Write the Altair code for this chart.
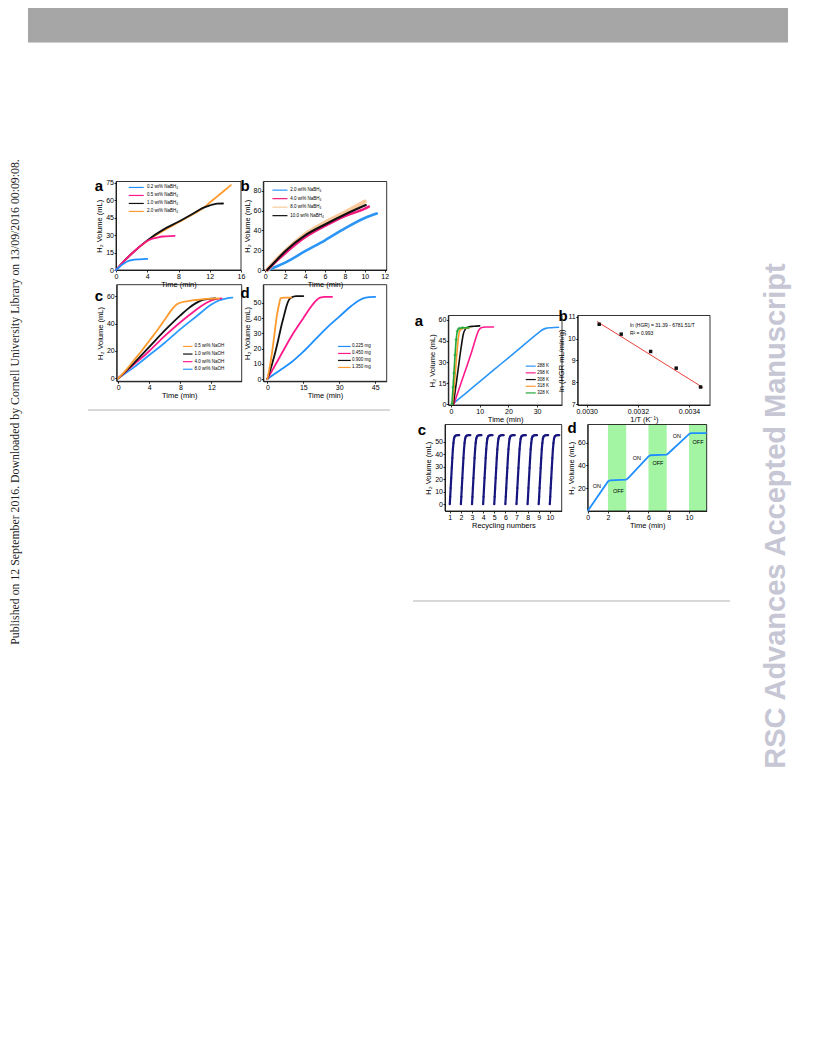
import altair as alt
import pandas as pd

W, H = 800, 1000
M = 8  # page margin: page pixel minus M = chart pixel
FONT = "Liberation Sans"

# ---------------- data ----------------
# Left figure (a): NaBH4 concentration
la_labels = ["0.2 wt% NaBH₄", "0.5 wt% NaBH₄", "1.0 wt% NaBH₄", "2.0 wt% NaBH₄"]
la_colors = ["#1f8fff", "#ff1a8c", "#111111", "#ff9a2e"]
la_t = [
    [0, 0.5, 1, 1.5, 2, 3, 4],
    [0, 1, 2, 3, 4, 4.5, 5, 5.5, 6, 7, 7.5],
    [0, 1, 2, 4, 6, 8, 10, 11, 12, 12.5, 13, 13.7],
    [0, 1, 2, 4, 6, 8, 10, 11.3, 12, 13, 14, 14.7],
]
la_v = [
    [0, 3, 5.5, 7.5, 8.5, 9.2, 9.5],
    [0, 7.5, 14, 20, 25, 26.5, 27.5, 28.3, 28.8, 29.2, 29.3],
    [0, 7.5, 14, 25.5, 34.5, 41.5, 49, 53, 55.5, 56.5, 57, 57.2],
    [0, 7.5, 14, 25, 33.5, 41, 48.5, 54, 58, 63.5, 69, 73],
]

# Left figure (b): NaBH4 concentration (higher)
lb_labels = ["2.0 wt% NaBH₄", "4.0 wt% NaBH₄", "8.0 wt% NaBH₄", "10.0 wt% NaBH₄"]
lb_colors = ["#2b95f5", "#f0197d", "#f8c99b", "#111111"]
lb_t = [
    [0.3, 1, 2, 4, 6, 8, 10, 11.2],
    [0.2, 1, 2, 4, 6, 8, 10, 10.4],
    [0.2, 1, 2, 4, 6, 8, 10],
    [0.2, 1, 2, 4, 6, 8, 10.1],
]
lb_v = [
    [0, 3, 7.5, 19, 30, 42, 52.5, 57],
    [0, 8, 17, 33, 44.5, 54.5, 62, 64],
    [0, 9, 19, 36, 48, 58, 69],
    [0, 8.5, 19, 35, 46, 56, 65.5],
]

# Left figure (c): NaOH concentration
lc_labels = ["0.5 wt% NaOH", "1.0 wt% NaOH", "4.0 wt% NaOH", "8.0 wt% NaOH"]
lc_colors = ["#ff9a2e", "#111111", "#ff1a8c", "#2b9bff"]
lc_t = [
    [0, 1, 2, 3, 4, 5, 6, 7, 7.5, 8, 9, 10, 11, 13],
    [0, 2, 4, 6, 8, 9, 10, 11, 12.5],
    [0, 2, 4, 6, 8, 10, 11, 12, 13.3],
    [0, 2, 4, 6, 8, 10, 12, 13, 14, 14.7],
]
lc_v = [
    [0, 6, 13, 20, 27.5, 35, 43, 51, 54, 55.3, 56.5, 57.3, 58, 58.5],
    [0, 11, 23, 35, 46, 51, 55, 57.5, 58.5],
    [0, 10, 20, 31, 41, 50, 54, 57, 58.5],
    [0, 8, 17, 26, 36, 45, 54, 57, 58.5, 59],
]

# Left figure (d): catalyst amount
ld_labels = ["0.225 mg", "0.450 mg", "0.900 mg", "1.350 mg"]
ld_colors = ["#1f8fff", "#ff1a8c", "#111111", "#ff9a2e"]
ld_t = [
    [0, 5, 10, 15, 20, 25, 30, 35, 38, 41, 45],
    [0, 5, 10, 15, 18, 20, 22, 24, 27],
    [0, 2, 4, 5, 6, 7, 8, 9, 10, 12, 15],
    [0, 1, 2, 3, 4, 5, 5.5, 7, 10],
]
ld_v = [
    [0, 5.5, 11, 18, 26, 34, 41, 48, 51.5, 53.5, 54],
    [0, 14, 28, 40, 47, 51, 53.5, 54, 54],
    [0, 10, 22, 29, 36, 42, 48, 52, 53.5, 54.5, 54.5],
    [0, 8, 18, 30, 42, 50, 53, 53.5, 53.5],
]

# Right figure (a): temperature
ra_labels = ["288 K", "298 K", "308 K", "318 K", "328 K"]
ra_colors = ["#2b95f5", "#ff1a8c", "#111111", "#ff9a2e", "#22a83a"]
ra_t = [
    [0.5, 5, 10, 15, 20, 25, 30, 31.5, 33, 35, 37.5],
    [1, 3, 5, 7, 8.5, 9.5, 10.5, 12, 14.8],
    [0.8, 1.5, 2.5, 3.5, 4.3, 5, 6, 8, 10],
    [0.5, 1, 1.5, 2, 2.5, 3, 4, 6.5],
    [0.3, 0.7, 1, 1.4, 1.8, 2.2, 2.8, 4, 6],
]
ra_v = [
    [0, 7.5, 16, 24.5, 33, 41.5, 50, 52.5, 54, 54.5, 54.8],
    [0, 12, 24, 36, 46, 52, 54.5, 55, 55],
    [0, 10, 25, 40, 50, 53.5, 55, 55.5, 55.8],
    [0, 10, 22, 35, 46, 52, 54, 54.5],
    [0, 12, 22, 35, 46, 52, 54, 54.5, 54.5],
]

# Right figure (b): Arrhenius plot
rb_invT = [0.003049, 0.003135, 0.003250, 0.003350, 0.003445]
rb_lnHGR = [10.65, 10.20, 9.41, 8.65, 7.79]
rb_fit_x = [0.003040, 0.003455]
rb_fit_y = [10.78, 7.76]
rb_eq = ["ln (HGR) = 31.39 - 6781.51/T", "R² = 0.993"]
rb_eq_x = [0.003169, 0.003169]
rb_eq_y = [10.62, 10.25]

# Right figure (c): recycling
rc_cycles = [1, 2, 3, 4, 5, 6, 7, 8, 9, 10]
rc_frac = [0, 0.04, 0.08, 0.13, 0.18, 0.23, 0.28, 0.33, 0.38, 0.45, 0.55, 0.7, 0.85]
rc_vol = [0, 6, 13, 21, 29, 37, 44, 49, 52.5, 54.3, 55, 55.3, 55.3]

# Right figure (d): ON/OFF control
rd_t = [0, 2, 2.2, 3.8, 4, 6, 6.2, 7.8, 8, 10, 10.2, 11.75]
rd_v = [0, 26, 27, 27.5, 29, 48, 49, 49.5, 51, 67.5, 68.5, 68.5]
rd_off_start = [2, 6, 10]
rd_off_end = [3.8, 7.8, 11.75]
rd_lab = ["ON", "OFF", "ON", "OFF", "ON", "OFF"]
rd_lab_x = [0.9, 3.03, 4.85, 6.93, 8.8, 10.9]
rd_lab_y = [22.3, 17.5, 47, 42.2, 66, 60.6]

# ---------------- layout (page pixels) ----------------
G = {
    "LA": dict(x0=116, x1=241, yb=270, yt=181.5, xd=[0, 16], yd=[0, 76.1]),
    "LB": dict(x0=263.3, x1=386.7, yb=270, yt=181.5, xd=[-0.2, 12.2], yd=[0, 89.3]),
    "LC": dict(x0=116.7, x1=241.7, yb=381.3, yt=284.7, xd=[-0.2, 15.9], yd=[-2.2, 68.5]),
    "LD": dict(x0=263.3, x1=386.7, yb=381.3, yt=284.7, xd=[-1.7, 49.8], yd=[-1.5, 62]),
    "RA": dict(x0=448.3, x1=562, yb=405, yt=315.5, xd=[-0.95, 38.7], yd=[-0.7, 63.2]),
    "RB": dict(x0=577.7, x1=710, yb=405, yt=315.5, xd=[0.002965, 0.003482], yd=[6.97, 11.05]),
    "RC": dict(x0=445, x1=561.7, yb=511, yt=424.5, xd=[0.57, 11.07], yd=[-5.4, 63.8]),
    "RD": dict(x0=587.7, x1=706.7, yb=511, yt=424.5, xd=[0, 11.75], yd=[0, 76]),
}

AX = dict(grid=False, labelFontSize=7, titleFontSize=7.5, labelFont=FONT, titleFont=FONT,
          titleFontWeight="normal", domainColor="black", tickColor="black", labelColor="black",
          titleColor="black", tickSize=2, domainWidth=0.8, tickWidth=0.8, labelPadding=0.5,
          labelFlush=False, labelOverlap=False)


def scales(g):
    sx = alt.Scale(domain=g["xd"], range=[g["x0"] - M, g["x1"] - M], nice=False, zero=False)
    sy = alt.Scale(domain=g["yd"], range=[g["yb"] - M, g["yt"] - M], nice=False, zero=False)
    return sx, sy


def xaxis(g, values, title, fmt=None):
    kw = dict(AX)
    if fmt:
        kw["format"] = fmt
    return alt.Axis(orient="bottom", offset=(g["yb"] - M) - H, values=values, title=title,
                    titlePadding=0.5, **kw)


def yaxis(g, values, title):
    return alt.Axis(orient="left", offset=-(g["x0"] - M), values=values, title=title,
                    titlePadding=1.8, **AX)


def frame(g, xvals, yvals, xtitle, ytitle, fmt=None):
    """Box around a panel; also carries that panel's axes."""
    sx, sy = scales(g)
    df = pd.DataFrame({"fx0": [g["xd"][0]], "fx1": [g["xd"][1]], "fy0": [g["yd"][0]], "fy1": [g["yd"][1]]})
    return alt.Chart(df).mark_rect(fillOpacity=0, stroke="black", strokeWidth=0.8).encode(
        x=alt.X("fx0:Q", scale=sx, axis=xaxis(g, xvals, xtitle, fmt)), x2="fx1:Q",
        y=alt.Y("fy0:Q", scale=sy, axis=yaxis(g, yvals, ytitle)), y2="fy1:Q")


def legend(sym_left, sym_w, text_x, row1, gap):
    s, sw = 3.5, 1.2
    cx = sym_left + sym_w / 2
    lx = cx - s / 2 - M
    k = sym_w / s
    return alt.Legend(orient="none", legendX=lx, legendY=row1 - M - (s + sw) / 2, title=None,
                      symbolType=f"M{-k:.3f},0H{k:.3f}", symbolSize=s * s, symbolStrokeWidth=sw,
                      labelOffset=text_x - M - lx - s - sw, labelFontSize=4.5, labelFont=FONT,
                      labelColor="black", rowPadding=max(gap - (s + sw), 0), padding=0, labelLimit=300)


def curve_panel(key, labels, colors, ts, vs, order, widths, xvals, yvals, xtitle, ytitle, leg):
    g = G[key]
    sx, sy = scales(g)
    units = [frame(g, xvals, yvals, xtitle, ytitle)]
    cscale = alt.Scale(domain=labels, range=colors)
    for n, i in enumerate(order):
        df = pd.DataFrame({"t": ts[i], "v": vs[i], "s": labels[i]})
        units.append(alt.Chart(df).mark_line(strokeWidth=widths[i], strokeCap="round",
                                             strokeJoin="round", interpolate="monotone").encode(
            x=alt.X("t:Q", scale=sx, axis=None),
            y=alt.Y("v:Q", scale=sy, axis=None),
            color=alt.Color("s:N", scale=cscale, legend=leg if n == 0 else None)))
    return units


VOL = "H₂ Volume (mL)"
TIME = "Time (min)"

units = []
units += curve_panel("LA", la_labels, la_colors, la_t, la_v, [3, 2, 1, 0], [1.8] * 4,
                     [0, 4, 8, 12, 16], [0, 15, 30, 45, 60, 75], TIME, VOL,
                     legend(128, 15, 146.7, 187.3, 6.7))
units += curve_panel("LB", lb_labels, lb_colors, lb_t, lb_v, [0, 2, 1, 3], [2.6, 2.6, 4, 2.2],
                     [0, 2, 4, 6, 8, 10, 12], [0, 20, 40, 60, 80], TIME, VOL,
                     legend(271.7, 15, 290, 190, 7.2))
units += curve_panel("LC", lc_labels, lc_colors, lc_t, lc_v, [3, 2, 1, 0], [1.8] * 4,
                     [0, 4, 8, 12], [0, 20, 40, 60], TIME, VOL,
                     legend(182.3, 9.4, 194.3, 346.3, 6.3))
units += curve_panel("LD", ld_labels, ld_colors, ld_t, ld_v, [0, 1, 2, 3], [1.8] * 4,
                     [0, 15, 30, 45], [0, 10, 20, 30, 40, 50], TIME, VOL,
                     legend(337.3, 12.7, 351.7, 346.3, 5.7))
units += curve_panel("RA", ra_labels, ra_colors, ra_t, ra_v, [0, 1, 2, 3, 4], [1.6] * 5,
                     [0, 10, 20, 30], [0, 15, 30, 45, 60], TIME, VOL,
                     legend(525, 10, 537, 366, 5.4))
ra_sx, ra_sy = scales(G["RA"])
units.append(alt.Chart(pd.DataFrame({"t": ra_t[4], "v": ra_v[4]})).mark_point(
    shape="cross", filled=True, size=10, color="#22a83a").encode(
    x=alt.X("t:Q", scale=ra_sx, axis=None), y=alt.Y("v:Q", scale=ra_sy, axis=None)))

# right b
g = G["RB"]
sx, sy = scales(g)
units.append(frame(g, [0.0030, 0.0032, 0.0034], [7, 8, 9, 10, 11], "1/T (K⁻¹)", "ln (HGR mL/min/g)", ".4f"))
units.append(alt.Chart(pd.DataFrame({"x": rb_fit_x, "y": rb_fit_y})).mark_line(color="#e8403a", strokeWidth=1).encode(
    x=alt.X("x:Q", scale=sx, axis=None), y=alt.Y("y:Q", scale=sy, axis=None)))
units.append(alt.Chart(pd.DataFrame({"x": rb_invT, "y": rb_lnHGR})).mark_square(size=12, color="#111111", opacity=1).encode(
    x=alt.X("x:Q", scale=sx, axis=None), y=alt.Y("y:Q", scale=sy, axis=None)))
units.append(alt.Chart(pd.DataFrame({"x": rb_eq_x, "y": rb_eq_y, "t": rb_eq})).mark_text(
    align="left", baseline="middle", fontSize=5, font=FONT, color="black").encode(
    x=alt.X("x:Q", scale=sx, axis=None), y=alt.Y("y:Q", scale=sy, axis=None), text="t:N"))

# right c
g = G["RC"]
sx, sy = scales(g)
rc_rows = []
for c in rc_cycles:
    for f, v in zip(rc_frac, rc_vol):
        rc_rows.append({"x": c + f, "v": v, "cyc": c})
units.append(frame(g, list(range(1, 11)), [0, 10, 20, 30, 40, 50], "Recycling numbers", VOL))
units.append(alt.Chart(pd.DataFrame(rc_rows)).mark_line(color="#16167e", strokeWidth=2.2).encode(
    x=alt.X("x:Q", scale=sx, axis=None), y=alt.Y("v:Q", scale=sy, axis=None), detail="cyc:N"))
units.append(alt.Chart(pd.DataFrame(rc_rows)).mark_circle(color="#16167e", size=5, opacity=1).encode(
    x=alt.X("x:Q", scale=sx, axis=None), y=alt.Y("v:Q", scale=sy, axis=None)))

# right d
g = G["RD"]
sx, sy = scales(g)
units.append(alt.Chart(pd.DataFrame({"a": rd_off_start, "b": rd_off_end,
                                     "y0": [g["yd"][0]] * 3, "y1": [g["yd"][1]] * 3})).mark_rect(
    color="#a3f5a3").encode(
    x=alt.X("a:Q", scale=sx, axis=None), x2="b:Q",
    y=alt.Y("y0:Q", scale=sy, axis=None), y2="y1:Q"))
units.append(frame(g, [0, 2, 4, 6, 8, 10], [20, 40, 60], TIME, VOL))
units.append(alt.Chart(pd.DataFrame({"t": rd_t, "v": rd_v})).mark_line(color="#1f8fff", strokeWidth=1.8).encode(
    x=alt.X("t:Q", scale=sx, axis=None), y=alt.Y("v:Q", scale=sy, axis=None)))
units.append(alt.Chart(pd.DataFrame({"x": rd_lab_x, "y": rd_lab_y, "t": rd_lab})).mark_text(
    fontSize=5.5, font=FONT, color="black").encode(
    x=alt.X("x:Q", scale=sx, axis=None), y=alt.Y("y:Q", scale=sy, axis=None), text="t:N"))

# ---------------- page decoration ----------------
ONE = pd.DataFrame({"k": [0]})
deco = [
    alt.Chart(ONE).mark_rect(color="#a6a6a6").encode(
        x=alt.value(20), x2=alt.value(780), y=alt.value(0), y2=alt.value(34)),
    alt.Chart(ONE).mark_rule(color="#d0d0d0", strokeWidth=1).encode(
        x=alt.value(20), x2=alt.value(780), y=alt.value(34.5)),
    alt.Chart(ONE).mark_rule(color="#a0a0a0", strokeWidth=0.8).encode(
        x=alt.value(80), x2=alt.value(382), y=alt.value(402)),
    alt.Chart(ONE).mark_rule(color="#a0a0a0", strokeWidth=0.8).encode(
        x=alt.value(405), x2=alt.value(722), y=alt.value(593)),
    alt.Chart(ONE).mark_text(
        text="Published on 12 September 2016. Downloaded by Cornell University Library on 13/09/2016 00:09:08.",
        angle=270, font="Liberation Serif", fontSize=11.8, color="#222222", align="center", baseline="middle").encode(
        x=alt.value(6.8), y=alt.value(394)),
    alt.Chart(ONE).mark_text(
        text="RSC Advances Accepted Manuscript", angle=270, font=FONT, fontWeight="bold", fontSize=29,
        color="#c6c6d4", align="center", baseline="middle").encode(
        x=alt.value(768), y=alt.value(508)),
]

let_txt = ["a", "b", "c", "d", "a", "b", "c", "d"]
let_px = [99, 245, 99, 245, 419, 563, 422, 572]
let_py = [186, 186, 296, 293, 321, 316, 430, 428]
letters = [
    alt.Chart(ONE).mark_text(text=t, font=FONT, fontWeight="bold", fontSize=15, color="black",
                             align="center", baseline="middle").encode(
        x=alt.value(px - M), y=alt.value(py - M))
    for t, px, py in zip(let_txt, let_px, let_py)
]

chart = alt.layer(*deco, *units, *letters).resolve_scale(
    x="independent", y="independent", color="independent"
).resolve_axis(
    x="independent", y="independent"
).resolve_legend(
    color="independent"
).properties(
    width=W, height=H, padding=0, autosize=alt.AutoSizeParams(type="none")
).configure_view(strokeWidth=0)

chart.save("out.html", embed_options={"renderer": "svg", "actions": False})
